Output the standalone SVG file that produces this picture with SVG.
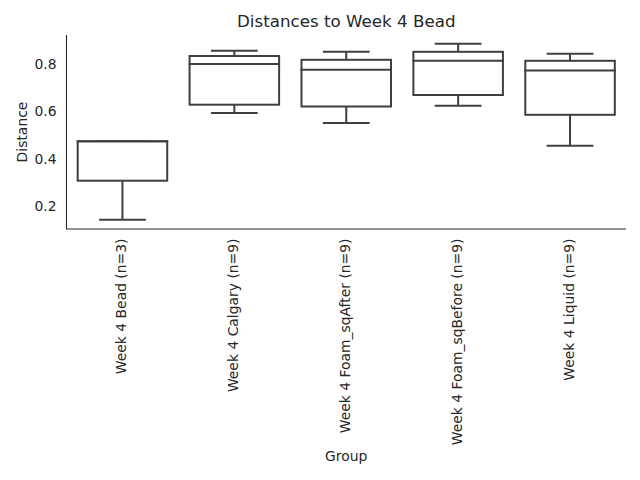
<svg xmlns="http://www.w3.org/2000/svg" width="640" height="480" viewBox="0 0 640 480">
<style>
text{font-family:"DejaVu Sans","Liberation Sans",sans-serif;fill:#262626;font-size:13.9px}
.title{font-size:16.7px}
.box{fill:#ffffff;stroke:#3f3f3f;stroke-width:2}
.ln{stroke:#3f3f3f;stroke-width:2;stroke-linecap:square;fill:none}
.spine{stroke:#262626;stroke-width:1.1;fill:none}
</style>
<rect width="640" height="480" fill="#ffffff"/>
<text class="title" x="346.25" y="27" text-anchor="middle">Distances to Week 4 Bead</text>
<g id="axes">
<path class="spine" d="M66.5,35 V229 H626"/>
<g id="yticks" text-anchor="end">
<text x="56.5" y="211">0.2</text>
<text x="56.5" y="163.5">0.4</text>
<text x="56.5" y="116">0.6</text>
<text x="56.5" y="68.5">0.8</text>
</g>
<text transform="translate(26.5,132) rotate(-90)" text-anchor="middle">Distance</text>
<g id="xticks" text-anchor="end">
<text transform="translate(126.1,238.5) rotate(-90)">Week 4 Bead (n=3)</text>
<text transform="translate(238,238.5) rotate(-90)">Week 4 Calgary (n=9)</text>
<text transform="translate(349.9,238.5) rotate(-90)">Week 4 Foam_sqAfter (n=9)</text>
<text transform="translate(461.8,238.5) rotate(-90)">Week 4 Foam_sqBefore (n=9)</text>
<text transform="translate(573.7,238.5) rotate(-90)">Week 4 Liquid (n=9)</text>
</g>
<text x="346.25" y="461" text-anchor="middle">Group</text>
</g>
<g id="connectors">
<path class="ln" d="M122.45,180.7 V219.7 M100.07,219.7 H144.83 M100.07,141.3 H144.83"/>
<path class="ln" d="M234.35,104.7 V113 M211.97,113 H256.73 M234.35,56 V50.7 M211.97,50.7 H256.73"/>
<path class="ln" d="M346.25,106.5 V123 M323.87,123 H368.63 M346.25,59.8 V51.7 M323.87,51.7 H368.63"/>
<path class="ln" d="M458.15,95 V105.7 M435.77,105.7 H480.53 M458.15,51.8 V43.7 M435.77,43.7 H480.53"/>
<path class="ln" d="M570.05,114.8 V145.7 M547.67,145.7 H592.43 M570.05,60.8 V53.7 M547.67,53.7 H592.43"/>
</g>
<g id="box-bead">
<rect class="box" x="77.69" y="141.3" width="89.52" height="39.4"/>
<path class="ln" d="M77.69,141.3 H167.21"/>
</g>
<g id="box-calgary">
<rect class="box" x="189.59" y="56" width="89.52" height="48.7"/>
<path class="ln" d="M189.59,64 H279.11"/>
</g>
<g id="box-foam-sqafter">
<rect class="box" x="301.49" y="59.8" width="89.52" height="46.7"/>
<path class="ln" d="M301.49,69.7 H391.01"/>
</g>
<g id="box-foam-sqbefore">
<rect class="box" x="413.39" y="51.8" width="89.52" height="43.2"/>
<path class="ln" d="M413.39,60.8 H502.91"/>
</g>
<g id="box-liquid">
<rect class="box" x="525.29" y="60.8" width="89.52" height="54"/>
<path class="ln" d="M525.29,70.4 H614.81"/>
</g>
</svg>
